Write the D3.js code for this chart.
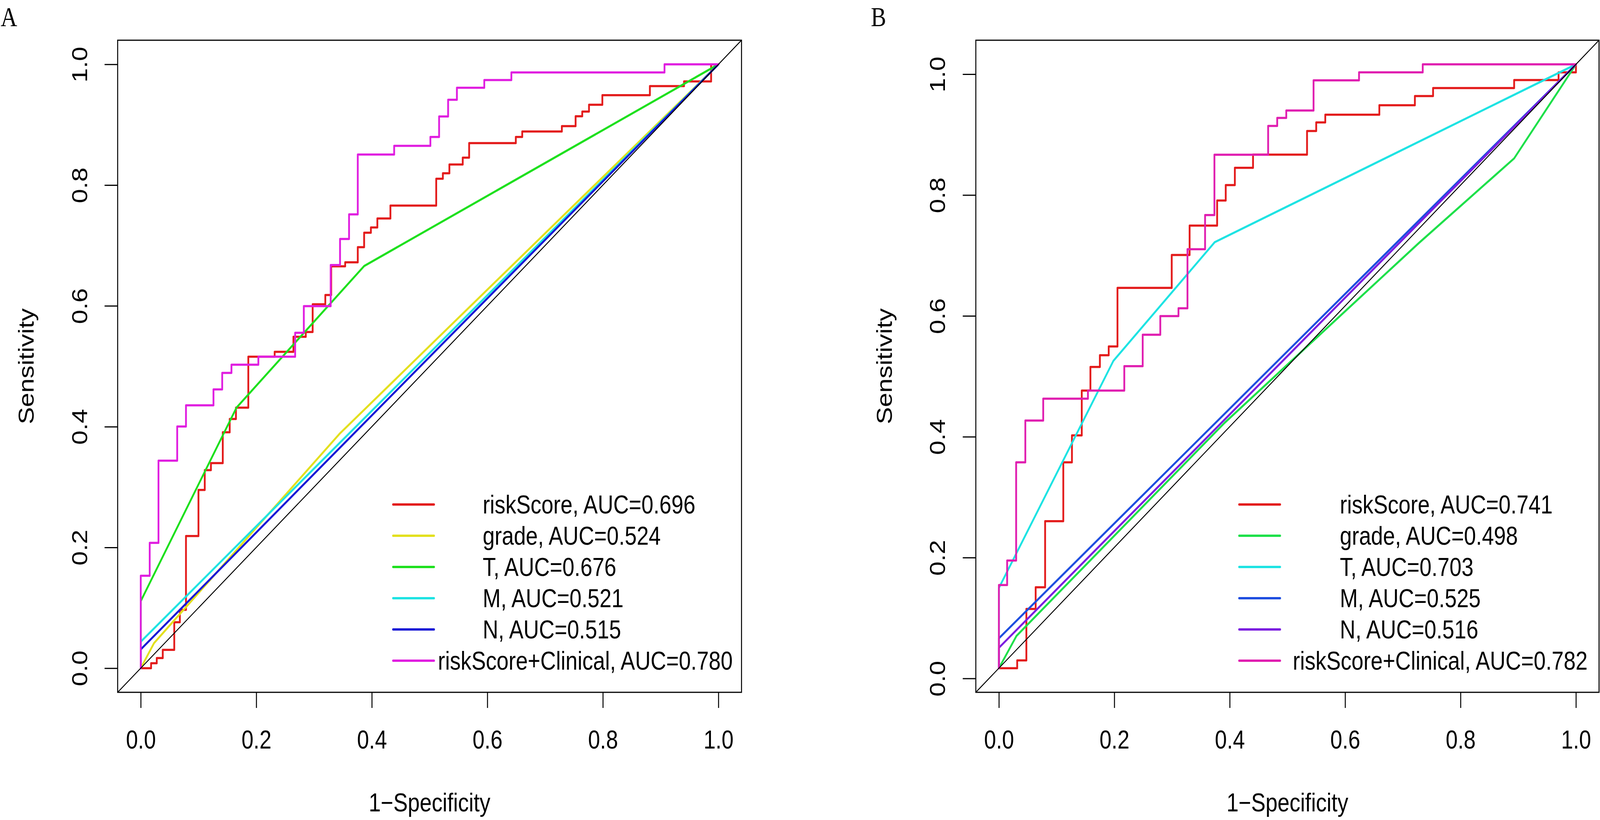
<!DOCTYPE html>
<html>
<head>
<meta charset="utf-8">
<script src="https://cdn.jsdelivr.net/npm/d3@7"></script>
<style>
  html, body { margin: 0; padding: 0; background: #ffffff; width: 100%; height: 100%; overflow: hidden; }
  #chart { width: 100vw; height: 100vh; }
  svg { display: block; width: 100%; height: 100%; }
</style>
</head>
<body>
<div id="chart"></div>
<script>
// ---------------- DATA ----------------
const seriesNames = ["riskScore", "grade", "T", "M", "N", "riskScore+Clinical"];
const aucA = [0.696, 0.524, 0.676, 0.521, 0.515, 0.780];
const aucB = [0.741, 0.498, 0.703, 0.525, 0.516, 0.782];
const tickValues = [0, 0.2, 0.4, 0.6, 0.8, 1.0];
const xTitle = "1\u2212Specificity";
const yTitle = "Sensitivity";

// Panel A curves: [1-specificity, sensitivity]
const riskScoreA = [[0,0],[0.0179,0.0082],[0.0277,0.0168],[0.0381,0.0304],[0.058,0.0761],[0.0677,0.0966],
  [0.0783,0.2188],[0.0999,0.2951],[0.1108,0.328],[0.1215,0.3396],[0.142,0.3907],[0.154,0.4127],[0.1648,0.4314],
  [0.1862,0.5158],[0.2318,0.524],[0.2643,0.5488],[0.2857,0.5568],[0.2976,0.6026],[0.3195,0.618],[0.3297,0.6656],
  [0.3539,0.6722],[0.3757,0.6973],[0.3867,0.7212],[0.3984,0.7299],[0.4096,0.7448],[0.4322,0.7662],[0.5115,0.8106],
  [0.523,0.8197],[0.5343,0.8342],[0.5574,0.8455],[0.5685,0.8696],[0.6493,0.8797],[0.6604,0.8888],[0.729,0.8978],
  [0.7528,0.9141],[0.7643,0.9218],[0.776,0.9332],[0.7991,0.949],[0.8814,0.964],[0.9405,0.9718],[0.9874,1.0],[1.0,1.0]];
const gradeA = [[0,0],[0.023,0.0415],[0.344,0.388],[1,1]];
const tStageA = [[0,0],[0,0.111],[0.1657,0.4314],[0.3868,0.6661],[1,1]];
const mStageA = [[0,0],[0,0.0438],[1,1]];
const nStageA = [[0,0],[0,0.031],[1,1]];
const combinedA = [[0,0],[0,0.153],[0.0155,0.2076],[0.0307,0.3437],[0.0631,0.4003],[0.0783,0.4353],[0.1259,0.4617],
  [0.141,0.489],[0.157,0.5026],[0.2036,0.5158],[0.2673,0.5555],[0.2823,0.5996],[0.3288,0.6677],[0.345,0.7108],
  [0.3606,0.7516],[0.3757,0.8506],[0.4387,0.8651],[0.5014,0.8797],[0.5165,0.9137],[0.5321,0.9413],[0.5473,0.9612],
  [0.5947,0.9741],[0.6416,0.9867],[0.9067,1.0],[1.0,1.0]];

// Panel B curves (values as read against the drawn axis)
const riskScoreB = [[0,0.0171],[0.0317,0.030],[0.0476,0.1151],[0.0637,0.151],[0.0801,0.2604],[0.1116,0.3577],
  [0.1266,0.4023],[0.1436,0.4764],[0.1586,0.5155],[0.175,0.535],[0.1903,0.5495],[0.2055,0.6464],[0.2995,0.7009],
  [0.3305,0.7495],[0.3782,0.791],[0.3931,0.8166],[0.4089,0.8451],[0.4404,0.867],[0.534,0.9061],[0.5499,0.9202],
  [0.5656,0.933],[0.6593,0.9486],[0.7209,0.9639],[0.7524,0.9771],[0.8929,0.9903],[0.9699,1.0031],[1.0,1.0163]];
const gradeB = [[0,0.0171],[0.0306,0.0706],[0.391,0.423],[0.7277,0.7206],[0.8929,0.8607],[1,1.0163]];
const tStageB = [[0,0.0171],[0,0.1498],[0.1985,0.5258],[0.374,0.722],[1,1.0163]];
const mStageB = [[0,0.0171],[0,0.0666],[1,1.0163]];
const nStageB = [[0,0.0171],[0,0.0508],[1,1.0163]];
const combinedB = [[0,0.0171],[0,0.1547],[0.0143,0.1953],[0.0299,0.3577],[0.0458,0.4269],[0.0768,0.4631],
  [0.1543,0.4764],[0.2173,0.5168],[0.2492,0.5689],[0.2797,0.5998],[0.3112,0.6126],[0.3268,0.7104],[0.3573,0.767],
  [0.3735,0.8667],[0.4666,0.9144],[0.4823,0.9276],[0.498,0.94],[0.5453,0.9899],[0.6241,1.0031],[0.7345,1.0163],[1.0,1.0163]];

const stepSeries = [true, false, false, false, false, true];
const colorsA = ["#E31B1B", "#E3E01E", "#1EE01E", "#1EE3E3", "#1A1AD6", "#E01EE0"];
const colorsB = ["#E31B1B", "#1EE04A", "#1EE3E3", "#1E4EE0", "#7B1EE0", "#E01EB0"];

// ---------------- LAYOUT ----------------
const W = 4896, H = 2100;
const FONT = 66;
const SANS = "'Liberation Sans', Arial, Helvetica, sans-serif";
const SERIF = "'Liberation Serif', 'Times New Roman', serif";
const panels = [
  { tag: "A", curves: [riskScoreA, gradeA, tStageA, mStageA, nStageA, combinedA], auc: aucA, colors: colorsA,
    frame: { l: 360, r: 2269, t: 103, b: 1773 }, tagX: 2, tagY: 67,
    legLine: [1203, 1328], legText: 1477, legTextLong: 1340 },
  { tag: "B", curves: [riskScoreB, gradeB, tStageB, mStageB, nStageB, combinedB], auc: aucB, colors: colorsB,
    frame: { l: 2986, r: 4893, t: 103, b: 1773 }, tagX: 2665, tagY: 67,
    legLine: [3792, 3917], legText: 4100, legTextLong: 3956 }
];
const legendRow0 = 1292, legendRowStep = 80;

// the drawing is laid out on a 4896x2100 canvas and stretched to fill the window
const svg = d3.select("#chart").append("svg")
  .attr("viewBox", `0 0 ${W} ${H}`).attr("preserveAspectRatio", "none");
svg.append("rect").attr("width", W).attr("height", H).attr("fill", "#fff");

panels.forEach(p => {
  const f = p.frame;
  // R-style 4% axis expansion around the data range
  const allY = p.curves.flat().map(d => d[1]);
  const [y0, y1] = d3.extent(allY);
  const ry = y1 - y0;
  const x = d3.scaleLinear().domain([-0.04, 1.04]).range([f.l, f.r]);
  const y = d3.scaleLinear().domain([y0 - 0.04 * ry, y1 + 0.04 * ry]).range([f.b, f.t]);

  const g = svg.append("g");
  const clipId = "clip" + p.tag;
  svg.append("clipPath").attr("id", clipId).append("rect")
    .attr("x", f.l).attr("y", f.t).attr("width", f.r - f.l).attr("height", f.b - f.t);

  // curves
  const plot = g.append("g").attr("clip-path", `url(#${clipId})`);
  p.curves.forEach((c, i) => {
    const line = d3.line().x(d => x(d[0])).y(d => y(d[1]))
      .curve(stepSeries[i] ? d3.curveStepAfter : d3.curveLinear);
    plot.append("path").attr("d", line(c)).attr("fill", "none")
      .attr("stroke", p.colors[i]).attr("stroke-width", 5.5)
      .attr("stroke-linejoin", "round").attr("stroke-linecap", "round");
  });
  // chance diagonal through first and last points of the curves
  const s = p.curves[0][0], e = p.curves[0][p.curves[0].length - 1];
  const slope = (e[1] - s[1]) / (e[0] - s[0]);
  const dx = [-0.05, 1.05];
  plot.append("line")
    .attr("x1", x(dx[0])).attr("y1", y(s[1] + slope * (dx[0] - s[0])))
    .attr("x2", x(dx[1])).attr("y2", y(s[1] + slope * (dx[1] - s[0])))
    .attr("stroke", "#000").attr("stroke-width", 2.6);

  // frame
  g.append("rect").attr("x", f.l).attr("y", f.t).attr("width", f.r - f.l).attr("height", f.b - f.t)
    .attr("fill", "none").attr("stroke", "#000").attr("stroke-width", 3);

  // x axis
  const xa = g.append("g").attr("transform", `translate(0,${f.b})`)
    .call(d3.axisBottom(x).tickValues(tickValues).tickFormat(d3.format(".1f")).tickSize(40).tickPadding(57));
  xa.select(".domain").remove();
  xa.selectAll(".tick line").attr("stroke", "#000").attr("stroke-width", 3);
  xa.selectAll(".tick text").style("font-size", FONT + "px").style("font-family", SANS).attr("fill", "#000");

  // y axis (labels parallel to axis, as R's las=0)
  const ya = g.append("g").attr("transform", `translate(${f.l},0)`)
    .call(d3.axisLeft(y).tickValues(tickValues).tickFormat(d3.format(".1f")).tickSize(40));
  ya.select(".domain").remove();
  ya.selectAll(".tick line").attr("stroke", "#000").attr("stroke-width", 3);
  ya.selectAll(".tick text")
    .style("font-size", FONT + "px").style("font-family", SANS).attr("fill", "#000")
    .attr("transform", "rotate(-90)").attr("text-anchor", "middle")
    .attr("x", 0).attr("y", -94).attr("dy", null);

  // titles
  g.append("text").attr("x", x(0.5)).attr("y", 2078).attr("text-anchor", "middle")
    .style("font-size", FONT + "px").style("font-family", SANS).attr("fill", "#000").text(xTitle);
  g.append("text").attr("transform", `translate(${f.l - 257},${y(0.5 * (y0 + y1))}) rotate(-90)`)
    .attr("text-anchor", "middle").style("font-size", FONT + "px").style("font-family", SANS)
    .attr("fill", "#000").text(yTitle);

  // panel tag (serif, as in the reference)
  g.append("text").attr("x", p.tagX).attr("y", p.tagY)
    .style("font-family", SERIF).style("font-size", "70px").attr("fill", "#000").text(p.tag);

  // legend
  const leg = g.append("g");
  seriesNames.forEach((name, i) => {
    const ry0 = legendRow0 + i * legendRowStep;
    leg.append("line").attr("x1", p.legLine[0]).attr("x2", p.legLine[1]).attr("y1", ry0).attr("y2", ry0)
      .attr("stroke", p.colors[i]).attr("stroke-width", 6).attr("stroke-linecap", "round");
    const label = `${name}, AUC=${p.auc[i].toFixed(3)}`;
    const isLong = i === seriesNames.length - 1;
    leg.append("text").attr("x", isLong ? p.legTextLong : p.legText).attr("y", ry0)
      .attr("dy", "0.355em").style("font-size", FONT + "px").style("font-family", SANS)
      .attr("fill", "#000").text(label);
  });
});
</script>
</body>
</html>
